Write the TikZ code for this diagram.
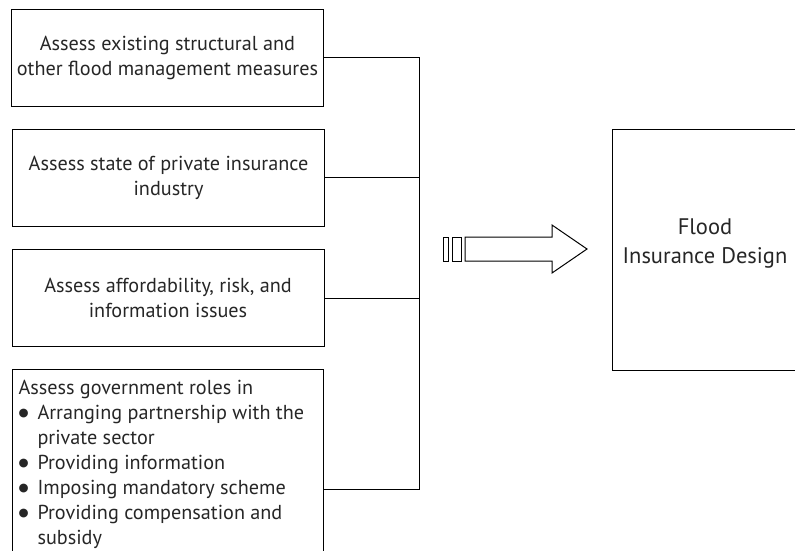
\documentclass[tikz,border=0pt]{standalone}
\usepackage{fontspec}
\setmainfont{PT Sans}
\newfontfamily\dejavu{DejaVu Sans}
\newcommand{\bul}{\makebox[19pt][l]{\raisebox{3.5pt}{\dejavu\fontsize{11.5}{12}\selectfont ●}}}
\newcommand{\nobul}{\hspace*{19pt}}
\begin{document}
\begin{tikzpicture}[x=1pt,y=-1pt,
  line width=1pt,
  txt/.style={font=\fontsize{20.2}{25}\selectfont, text=black!85},
  box/.style={draw, line width=1pt, minimum width=312pt, minimum height=97pt,
    align=center, inner sep=0pt, txt},
  conn/.style={line width=1pt},
  arr/.style={draw, line width=1pt, line join=miter}]
\useasboundingbox (0,0) rectangle (795,550);
\clip (0,0) rectangle (795,550);
% left boxes
\node[box] (b1) at (167.5,57.5) {Assess existing structural and\\other flood management measures};
\node[box] (b2) at (168.5,177.5) {Assess state of private insurance\\industry};
\node[box] (b3) at (168,298) {Assess affordability, risk, and\\information issues};
\node[draw, line width=1pt, anchor=north west, minimum width=311pt, minimum height=220pt, inner sep=0pt] (b4) at (12,369) {};
\node[txt, anchor=north west, align=left, inner sep=0pt] (b4t) at (18,380)
  {Assess government roles in\\
   \bul Arranging partnership with the\\
   \nobul private sector\\
   \bul Providing information\\
   \bul Imposing mandatory scheme\\
   \bul Providing compensation and\\
   \nobul subsidy};
% bus
\coordinate (bus) at (419,0);
\coordinate (b4o) at (323,489.5);
\draw[conn] (b1.east) -- (b1.east -| bus) -- (b4o -| bus) -- (b4o);
\draw[conn] (b2.east) -- (b2.east -| bus);
\draw[conn] (b3.east) -- (b3.east -| bus);
% striped arrow
\draw[arr] (443.5,237) rectangle (448.5,261);
\draw[arr] (452.5,237) rectangle (461,261);
\draw[arr] (465,237) -- (552,237) -- (552,225) -- (587,249) -- (552,273) -- (552,261) -- (465,261) -- cycle;
% flood box
\node[draw, line width=1pt, anchor=north west, minimum width=186pt, minimum height=240.5pt, inner sep=0pt] (fb) at (612,129) {};
\node[font=\fontsize{22.5}{29}\selectfont, text=black!85, align=center, inner sep=0pt] (ft) at (705,244) {Flood\\Insurance Design};
\end{tikzpicture}
\end{document}
